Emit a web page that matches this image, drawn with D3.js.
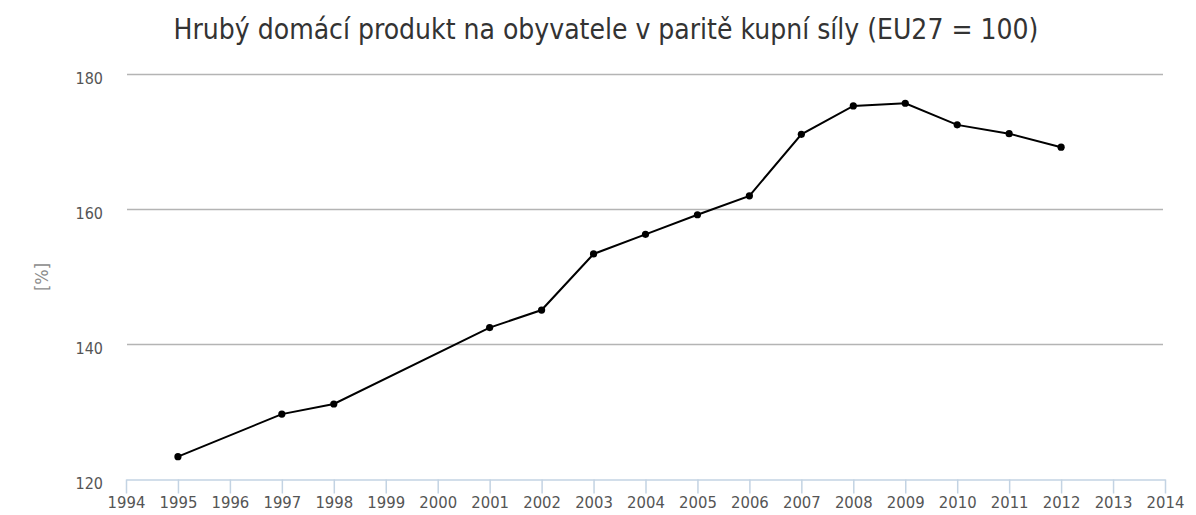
<!DOCTYPE html>
<html>
<head>
<meta charset="utf-8">
<script src="https://cdn.jsdelivr.net/npm/d3@7"></script>
<style>
  body { margin: 0; background: #fff; }
  svg { display: block; }
  text { font-family: "DejaVu Sans Condensed", "DejaVu Sans", sans-serif; }
</style>
</head>
<body>
<div id="chart"></div>
<script>
// values
var years = [1995, 1997, 1998, 2001, 2002, 2003, 2004, 2005, 2006, 2007, 2008, 2009, 2010, 2011, 2012];
var values = [123.3, 129.6, 131.1, 142.4, 145.0, 153.3, 156.2, 159.1, 161.9, 171.0, 175.2, 175.6, 172.4, 171.1, 169.1];
var xTicks = d3.range(1994, 2015);
var yTicks = [120, 140, 160, 180];
var title = "Hrubý domácí produkt na obyvatele v paritě kupní síly (EU27 = 100)";
var yLabel = "[%]";

var width = 1196, height = 515;
var margins = { top: 73.5, right: 31, bottom: 36, left: 126 };

var svg = d3.select('#chart').append('svg')
    .attr('width', width)
    .attr('height', height);

var xScale = d3.scaleLinear()
    .domain([1994, 2014])
    .range([margins.left, width - margins.right]);
var yScale = d3.scaleLinear()
    .domain([120, 180])
    .range([height - margins.bottom, margins.top]);

// title
svg.append('text')
    .attr('x', 606)
    .attr('y', 39)
    .attr('text-anchor', 'middle')
    .style('font-size', '28px')
    .style('fill', '#333')
    .text(title);

// horizontal grid lines
svg.append('g').attr('class', 'grid')
    .selectAll('line')
    .data(yTicks.filter(function (d) { return d > 120; }))
    .enter().append('line')
    .attr('x1', margins.left + 1)
    .attr('x2', width - margins.right - 2)
    .attr('y1', function (d) { return Math.round(yScale(d)) + 0.5; })
    .attr('y2', function (d) { return Math.round(yScale(d)) + 0.5; })
    .style('stroke', '#b4b4b4')
    .style('stroke-width', 1.3);

// y tick labels
svg.append('g').attr('class', 'yAxis')
    .selectAll('text')
    .data(yTicks)
    .enter().append('text')
    .attr('x', 103)
    .attr('y', function (d) { return yScale(d) + 10; })
    .attr('text-anchor', 'end')
    .style('font-size', '16px')
    .style('fill', '#555')
    .text(function (d) { return d; });

// y axis title
svg.append('text')
    .attr('transform', 'translate(48,277) rotate(-90)')
    .attr('text-anchor', 'middle')
    .style('font-size', '18px')
    .style('fill', '#8c8c8c')
    .text(yLabel);

// x axis
var xAxis = d3.axisBottom(xScale)
    .tickValues(xTicks)
    .tickFormat(d3.format('d'))
    .tickSizeInner(14)
    .tickSizeOuter(0)
    .tickPadding(3);

var xAxisG = svg.append('g')
    .attr('class', 'xAxis')
    .attr('transform', 'translate(0,' + (Math.round(yScale(120)) + 0.5) + ')')
    .call(xAxis);
xAxisG.select('.domain').style('stroke', '#c3d3e3').style('stroke-width', 1.5);
xAxisG.selectAll('.tick line').style('stroke', '#c3d3e3').style('stroke-width', 1.5);
xAxisG.selectAll('.tick text')
    .style('font-size', '16.5px')
    .style('fill', '#555')
    .style('font-family', '"DejaVu Sans Condensed", "DejaVu Sans", sans-serif');

// series line and points
var points = years.map(function (y, i) { return [y, values[i]]; });

svg.append('path')
    .datum(points)
    .attr('d', d3.line()
        .x(function (d) { return xScale(d[0]); })
        .y(function (d) { return yScale(d[1]); }))
    .attr('fill', 'none')
    .attr('stroke', '#000')
    .attr('stroke-width', 2);

svg.append('g').attr('class', 'points')
    .selectAll('circle')
    .data(points)
    .enter().append('circle')
    .attr('cx', function (d) { return xScale(d[0]); })
    .attr('cy', function (d) { return yScale(d[1]); })
    .attr('r', 3.6)
    .attr('fill', '#000');
</script>
</body>
</html>
